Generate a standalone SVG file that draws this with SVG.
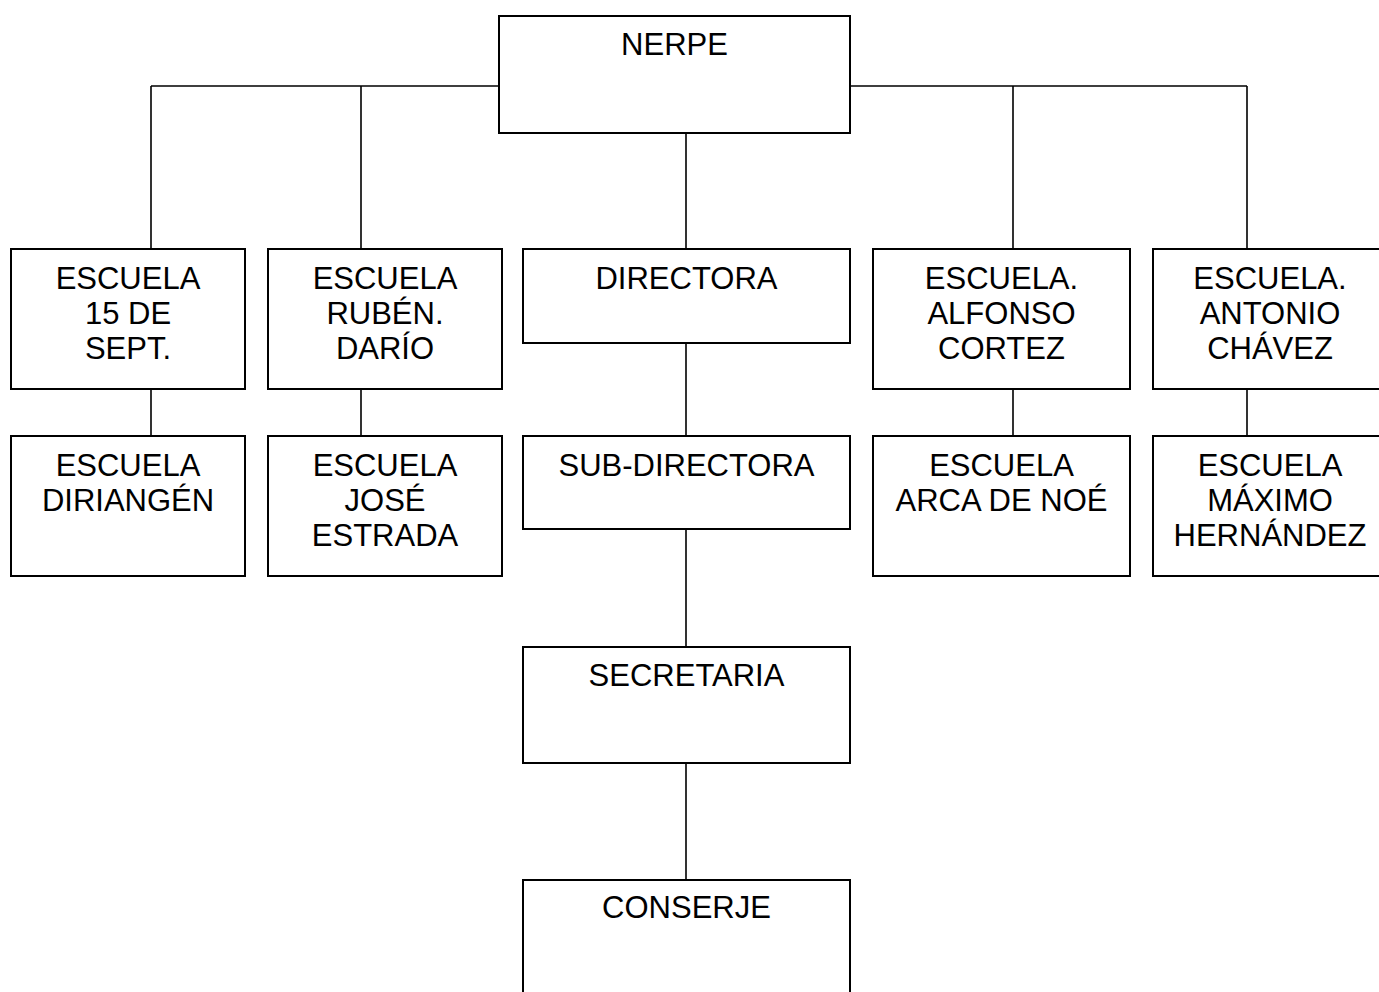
<svg xmlns="http://www.w3.org/2000/svg" width="1379" height="992" viewBox="0 0 1379 992">
<style>
.box{fill:#fff;stroke:#000;stroke-width:2}
.ln{stroke:#000;stroke-width:1.6;fill:none}
text{font-family:"Liberation Sans",Arial,sans-serif;font-size:31px;fill:#000;text-anchor:middle}
</style>
<rect width="1379" height="992" fill="#fff"/>
<g id="connectors">
<path class="ln" d="M151,86 H499 M850,86 H1247 M151,86 V249 M361,86 V249 M1013,86 V249 M1247,86 V249"/>
<path class="ln" d="M686,133 V249 M686,343 V436 M686,529 V647 M686,763 V880"/>
<path class="ln" d="M151,389 V436 M361,389 V436 M1013,389 V436 M1247,389 V436"/>
</g>
<g id="nerpe"><rect class="box" x="499" y="16" width="351" height="117"/><text x="674.5" y="55">NERPE</text></g>
<g id="escuela15"><rect class="box" x="11" y="249" width="234" height="140"/><text x="128" y="289">ESCUELA</text><text x="128" y="324">15 DE</text><text x="128" y="359">SEPT.</text></g>
<g id="rubendario"><rect class="box" x="268" y="249" width="234" height="140"/><text x="385" y="289">ESCUELA</text><text x="385" y="324">RUBÉN.</text><text x="385" y="359">DARÍO</text></g>
<g id="directora"><rect class="box" x="523" y="249" width="327" height="94"/><text x="686.5" y="289">DIRECTORA</text></g>
<g id="alfonso"><rect class="box" x="873" y="249" width="257" height="140"/><text x="1001.5" y="289">ESCUELA.</text><text x="1001.5" y="324">ALFONSO</text><text x="1001.5" y="359">CORTEZ</text></g>
<g id="antonio"><rect class="box" x="1153" y="249" width="234" height="140"/><text x="1270" y="289">ESCUELA.</text><text x="1270" y="324">ANTONIO</text><text x="1270" y="359">CHÁVEZ</text></g>
<g id="diriangen"><rect class="box" x="11" y="436" width="234" height="140"/><text x="128" y="476">ESCUELA</text><text x="128" y="511">DIRIANGÉN</text></g>
<g id="joseestrada"><rect class="box" x="268" y="436" width="234" height="140"/><text x="385" y="476">ESCUELA</text><text x="385" y="511">JOSÉ</text><text x="385" y="546">ESTRADA</text></g>
<g id="subdirectora"><rect class="box" x="523" y="436" width="327" height="93"/><text x="686.5" y="476">SUB-DIRECTORA</text></g>
<g id="arcanoe"><rect class="box" x="873" y="436" width="257" height="140"/><text x="1001.5" y="476">ESCUELA</text><text x="1001.5" y="511">ARCA DE NOÉ</text></g>
<g id="maximo"><rect class="box" x="1153" y="436" width="234" height="140"/><text x="1270" y="476">ESCUELA</text><text x="1270" y="511">MÁXIMO</text><text x="1270" y="546">HERNÁNDEZ</text></g>
<g id="secretaria"><rect class="box" x="523" y="647" width="327" height="116"/><text x="686.5" y="686">SECRETARIA</text></g>
<g id="conserje"><rect class="box" x="523" y="880" width="327" height="130"/><text x="686.5" y="918">CONSERJE</text></g>
</svg>
